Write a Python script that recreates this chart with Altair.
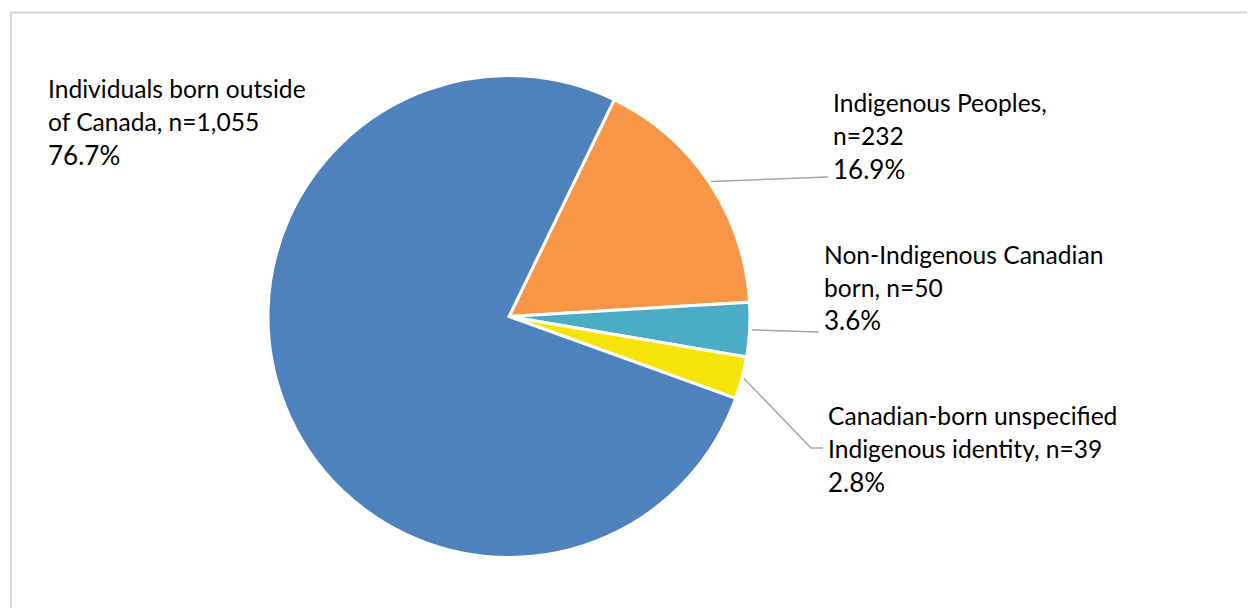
import math
import altair as alt
import pandas as pd

# ---- data ----
categories = [
    "Indigenous Peoples",
    "Non-Indigenous Canadian born",
    "Canadian-born unspecified Indigenous identity",
    "Individuals born outside of Canada",
]
counts = [232, 50, 39, 1055]
name_labels = [
    "Indigenous Peoples,\nn=232",
    "Non-Indigenous Canadian\nborn, n=50",
    "Canadian-born unspecified\nIndigenous identity, n=39",
    "Individuals born outside\nof Canada, n=1,055",
]
colors = ["#F79646", "#4BACC6", "#F5E30A", "#4F81BD"]

# ---- layout (pixels in the plot area; page offset 8px) ----
W, H = 1239, 600
CX, CY = 501, 308.5
R = 241
START_DEG = 25.9
label_x = [825, 816, 820, 40]
label_y = [103.5, 255.5, 417, 89.5]
pct_y = [171, 322, 483.5, 157]
leader_r = 243
leader_ends = [[(820, 169)], [(811, 324)], [(803, 440), (815, 440)], []]
FONT = "Lato"

total = sum(counts)
pct_text = [f"{c / total * 100:.1f}%" for c in counts]

df = pd.DataFrame({
    "idx": list(range(len(categories))),
    "category": categories,
    "count": counts,
    "name": name_labels,
    "pct": pct_text,
    "lx": label_x,
    "ly": label_y,
    "py": pct_y,
})

start = math.radians(START_DEG)

pie = alt.Chart(df).mark_arc(
    outerRadius=R, stroke="white", strokeWidth=3
).encode(
    theta=alt.Theta("count:Q", stack=True,
                    scale=alt.Scale(range=[start, start + 2 * math.pi])),
    color=alt.Color("category:N", scale=alt.Scale(domain=categories, range=colors),
                    legend=None),
    order=alt.Order("idx:Q"),
    x=alt.value(CX),
    y=alt.value(CY),
)

# leader lines: from slice mid-angle just outside the pie to the label
rows = []
cum = 0
for i, c in enumerate(counts):
    mid = start + (cum + c / 2) / total * 2 * math.pi
    cum += c
    if not leader_ends[i]:
        continue
    pts = [(CX + leader_r * math.sin(mid), CY - leader_r * math.cos(mid))] + leader_ends[i]
    for k, (px, py) in enumerate(pts):
        rows.append({"seg": categories[i], "k": k, "px": px, "py": py})
lead_df = pd.DataFrame(rows)

leaders = alt.Chart(lead_df).mark_line(color="#A6A6A6", strokeWidth=1.5).encode(
    x=alt.X("px:Q", scale=None),
    y=alt.Y("py:Q", scale=None),
    detail="seg:N",
    order="k:Q",
)

names = alt.Chart(df).mark_text(
    align="left", baseline="alphabetic", lineBreak="\n", lineHeight=33,
    font=FONT, fontSize=24.6, color="#000000"
).encode(
    x=alt.X("lx:Q", scale=None),
    y=alt.Y("ly:Q", scale=None),
    text="name:N",
)

pcts = alt.Chart(df).mark_text(
    align="left", baseline="alphabetic", font=FONT, fontSize=26, color="#000000"
).encode(
    x=alt.X("lx:Q", scale=None),
    y=alt.Y("py:Q", scale=None),
    text="pct:N",
)

border_top = alt.Chart(df).mark_rule(color="#D9D9D9", strokeWidth=1.5).encode(
    x=alt.value(3), x2=alt.value(W), y=alt.value(4.5)
)
border_left = alt.Chart(df).mark_rule(color="#D9D9D9", strokeWidth=1.5).encode(
    x=alt.value(3), y=alt.value(4.5), y2=alt.value(H)
)

chart = alt.layer(border_top, border_left, pie, leaders, names, pcts).properties(
    width=W, height=H, padding=0, autosize="none"
).configure_view(stroke=None)

chart.save("out.html", embed_options={"renderer": "svg", "actions": False})
